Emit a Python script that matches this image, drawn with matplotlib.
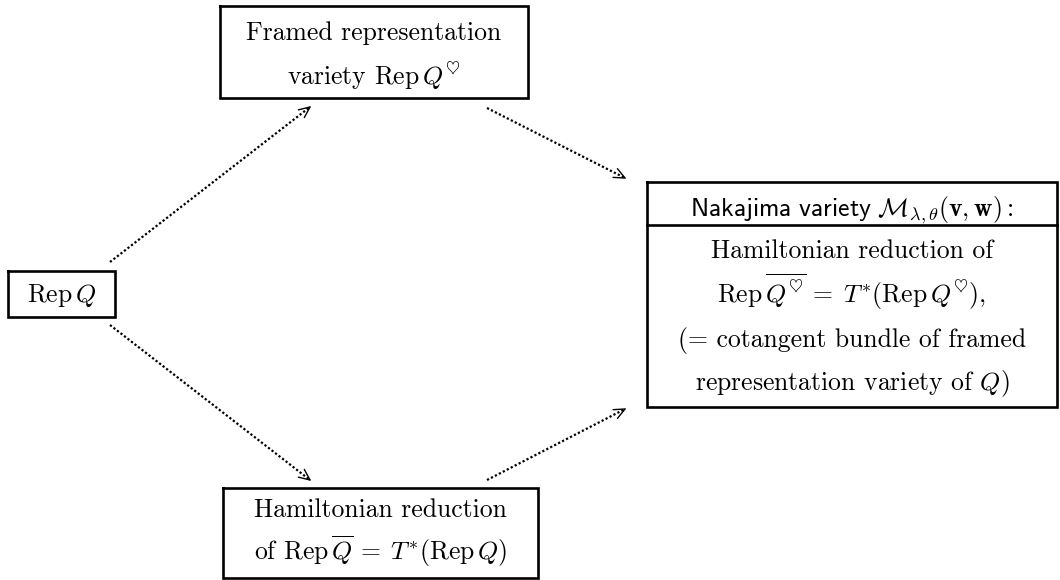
import numpy as np
import matplotlib
matplotlib.use("Agg")
import matplotlib.pyplot as plt

plt.rcParams['mathtext.fontset'] = 'cm'

FS = 18.5
TEXT_FAMILY = 'cmr10'

# ---- diagram content ----
top_lines = [r"Framed representation", r"variety $\mathrm{Rep}\,Q^{\heartsuit}$"]
left_lines = [r"$\mathrm{Rep}\,Q$"]
bottom_lines = [r"Hamiltonian reduction",
                r"of $\mathrm{Rep}\,\overline{Q}\,=\;T^{*}(\mathrm{Rep}\,Q)$"]
right_header = r"$\mathsf{Nakajima\ variety}\ \mathcal{M}_{\lambda,\theta}(\mathbf{v},\mathbf{w}):$"
right_lines = [r"Hamiltonian reduction of",
               r"$\mathrm{Rep}\,\overline{Q^{\heartsuit}}\,=\;T^{*}(\mathrm{Rep}\,Q^{\heartsuit}),$",
               r"(= cotangent bundle of framed",
               r"representation variety of $Q$)"]

# ---- layout (pixel coordinates, y downward) ----
boxes = {
    'top':    dict(x0=220, x1=528, y0=6,   y1=98),
    'left':   dict(x0=8,   x1=115, y0=271, y1=317),
    'bottom': dict(x0=223, x1=538, y0=488, y1=578),
    'right':  dict(x0=647, x1=1057, y0=182, y1=407),
}
right_divider_y = 225

top_baselines = [40, 85]
left_baselines = [302]
bottom_baselines = [517, 560]
right_header_baseline = 216
right_baselines = [258, 303, 347, 390]

arrows = [
    ((110, 262), (310, 107)),
    ((110, 325), (310, 480)),
    ((487, 108), (625, 178)),
    ((487, 480), (625, 409)),
]

W, H = 1060, 580
fig = plt.figure(figsize=(W / 100, H / 100), dpi=100)
ax = fig.add_axes([0, 0, 1, 1])
ax.set_xlim(0, W)
ax.set_ylim(H, 0)
ax.axis('off')

LW = 1.9

def draw_box(b):
    xs = [b['x0'], b['x1'], b['x1'], b['x0'], b['x0']]
    ys = [b['y0'], b['y0'], b['y1'], b['y1'], b['y0']]
    ax.plot(xs, ys, color='black', lw=LW, solid_joinstyle='miter', solid_capstyle='projecting')

for b in boxes.values():
    draw_box(b)

rb = boxes['right']
ax.plot([rb['x0'], rb['x1']], [right_divider_y, right_divider_y], color='black', lw=LW)

def cx(b):
    return (b['x0'] + b['x1']) / 2

def put_lines(lines, baselines, x):
    for s, y in zip(lines, baselines):
        ax.text(x, y, s, ha='center', va='baseline', fontsize=FS, family=TEXT_FAMILY, color='black')

put_lines(top_lines, top_baselines, cx(boxes['top']))
put_lines(left_lines, left_baselines, cx(boxes['left']))
put_lines(bottom_lines, bottom_baselines, cx(boxes['bottom']))
put_lines([right_header], [right_header_baseline], cx(rb))
put_lines(right_lines, right_baselines, cx(rb))

# dotted arrows with open heads
HEAD_LEN = 12
HEAD_ANG = np.deg2rad(24)
for (x0, y0), (x1, y1) in arrows:
    ax.plot([x0, x1], [y0, y1], color='black', lw=1.6,
            linestyle=(0, (1.0, 1.0)), dash_capstyle='butt')
    ang = np.arctan2(y1 - y0, x1 - x0)
    for s in (1, -1):
        a = ang + np.pi + s * HEAD_ANG
        ax.plot([x1, x1 + HEAD_LEN * np.cos(a)], [y1, y1 + HEAD_LEN * np.sin(a)],
                color='black', lw=1.0, solid_capstyle='round')

fig.savefig('out.png', dpi=100, facecolor='white')
